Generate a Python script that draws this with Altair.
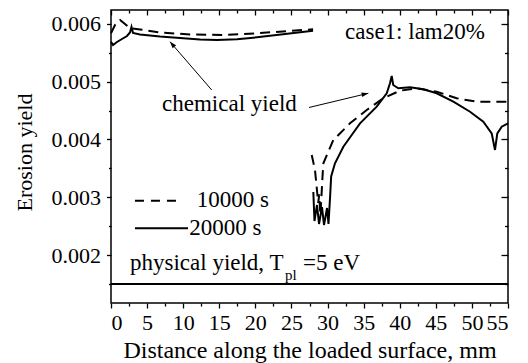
import altair as alt
import pandas as pd

# ---- data ----
# 20000 s (solid), left segment and right segment
sol_left_x = [0.0, 0.28, 0.83, 1.52, 2.22, 2.63, 2.84, 3.05, 4.02, 6.79, 9.56, 12.33, 14.69, 17.46, 20.23, 23.83, 27.99]
sol_left_y = [0.005692, 0.005634, 0.005686, 0.005738, 0.005790, 0.005851, 0.005946, 0.005842, 0.005816,
              0.005781, 0.005755, 0.005729, 0.005721, 0.005733, 0.005768, 0.005820, 0.005882]
sol_right_x = [28.03, 28.19, 28.54, 28.82, 29.23, 29.51, 29.93, 30.13, 30.35, 30.5, 31.03, 32.19, 33.35, 34.50,
               36.81, 38.2, 38.65, 38.89, 39.1, 39.8, 41.42, 43.27, 45.12, 47.43, 49.74, 51.58, 52.74, 53.2,
               53.52, 54.13, 55.0]
sol_right_y = [0.003091, 0.002589, 0.002866, 0.002537, 0.002831, 0.002520, 0.002814, 0.002537, 0.00300, 0.00336,
               0.003587, 0.003875, 0.004077, 0.004279, 0.004567, 0.004799, 0.004972, 0.005098, 0.004942, 0.004885,
               0.004902, 0.004868, 0.004799, 0.004653, 0.004480, 0.004307, 0.004106, 0.003818, 0.004106, 0.004221,
               0.004279]
# 10000 s (dashed)
dash_left_x = [0.0, 0.55, 0.97, 1.25, 1.94, 2.63, 4.02, 6.79, 10.94, 15.52, 20.2, 24.8, 28.0]
dash_left_y = [0.005837, 0.005980, 0.006050, 0.006067, 0.005998, 0.005923, 0.005903, 0.005851, 0.005816,
               0.005807, 0.005837, 0.005877, 0.005906]
dash_right_x = [27.81, 28.26, 28.49, 28.7, 28.85, 29.0, 29.15, 29.3, 29.42, 30.80, 33.11, 35.43, 37.73, 40.04,
                42.35, 45.12, 47.89, 50.66, 55.0]
dash_right_y = [0.003731, 0.003471, 0.003182, 0.00290, 0.00305, 0.00270, 0.00300, 0.00335, 0.003587, 0.003990,
                0.004279, 0.004510, 0.004712, 0.004844, 0.004885, 0.004827, 0.004712, 0.004653, 0.004653]
physical_yield = 0.0015

# axis tick values
x_major = [0, 5, 10, 15, 20, 25, 30, 35, 40, 45, 50, 55]
x_minor = [2.5, 7.5, 12.5, 17.5, 22.5, 27.5, 32.5, 37.5, 42.5, 47.5, 52.5]
y_major = [0.002, 0.003, 0.004, 0.005, 0.006]
y_minor = [0.0015, 0.0025, 0.0035, 0.0045, 0.0055]

# annotations
left_texts = ["chemical yield", "physical yield, T", "=5 eV", "10000 s", "20000 s"]
left_texts_x = [7.07, 2.63, 26.6, 11.87, 10.85]
left_texts_y = [0.004492, 0.001741, 0.001741, 0.0028363, 0.0023467]
case_text = ["case1: lam20%"]
case_x = [51.8]
case_y = [0.00574]
sub_text = ["pl"]
sub_x = [24.1]
sub_y = [0.001568]
legend_series = ["10000 s", "20000 s"]
legend_x1 = [3.32, 3.32]
legend_x2 = [9.84, 10.67]
legend_y = [0.0029402, 0.0024625]
arrow_tail_x = [13.95, 27.43]
arrow_tail_y = [0.004856, 0.004553]
arrow_head_x = [8.17, 35.65]
arrow_head_y = [0.005691, 0.004799]
arrow_angle = [319, 77]

# ---- tables ----
def seg(xs, ys, name):
    return pd.DataFrame({"x": xs, "y": ys, "seg": name, "o": range(len(xs))})

solid_df = pd.concat([seg(sol_left_x, sol_left_y, "a"), seg(sol_right_x, sol_right_y, "b")])
dash_df = pd.concat([seg(dash_left_x, dash_left_y, "a"), seg(dash_right_x, dash_right_y, "b")])
text_df = pd.DataFrame({"x": left_texts_x, "y": left_texts_y, "t": left_texts})
case_df = pd.DataFrame({"x": case_x, "y": case_y, "t": case_text})
sub_df = pd.DataFrame({"x": sub_x, "y": sub_y, "t": sub_text})
leg_df = pd.DataFrame({"x": legend_x1, "x2": legend_x2, "y": legend_y, "s": legend_series})
arr_df = pd.DataFrame({"x": arrow_tail_x, "y": arrow_tail_y, "x2": arrow_head_x, "y2": arrow_head_y,
                       "a": arrow_angle})

FONT = "Liberation Serif, 'Times New Roman', Times, 'DejaVu Serif', serif"
xs = alt.Scale(domain=[0, 55], nice=False, zero=False)
ys = alt.Scale(domain=[0.00117, 0.00624], nice=False, zero=False)

def xaxis(**kw):
    base = dict(grid=False, domain=False, labels=False, title=None, tickColor="black", tickWidth=1.3)
    base.update(kw)
    return alt.Axis(**base)

# main axes (bottom / left, outward majors with labels)
ax_bottom = xaxis(orient="bottom", values=x_major, labels=True, tickSize=5, labelPadding=4, format="d",
                  title="Distance along the loaded surface, mm", titleFontSize=24,
                  titleBaseline="alphabetic", titleY=54)
ax_left = xaxis(orient="left", values=y_major, labels=True, tickSize=4.5, labelPadding=6, format=".3f",
                title="Erosion yield", titleFontSize=22, titleBaseline="alphabetic", titleAngle=270,
                titleX=-80, titleY=142, titleAlign="center")

solid = alt.Chart(solid_df).mark_line(color="black", strokeWidth=2).encode(
    x=alt.X("x:Q", scale=xs, axis=ax_bottom),
    y=alt.Y("y:Q", scale=ys, axis=ax_left),
    detail="seg:N", order="o:Q")

dashed = alt.Chart(dash_df).mark_line(color="black", strokeWidth=2, strokeDash=[10, 6]).encode(
    x=alt.X("x:Q", scale=xs, axis=xaxis(orient="top", values=x_major, tickSize=5, offset=-5)),
    y=alt.Y("y:Q", scale=ys, axis=xaxis(orient="right", values=y_major, tickSize=7, offset=-7)),
    detail="seg:N", order="o:Q")

phys = alt.Chart(pd.DataFrame({"y": [physical_yield]})).mark_rule(color="black", strokeWidth=2).encode(
    y=alt.Y("y:Q", scale=ys, axis=xaxis(orient="left", values=y_minor, tickSize=2.5)))

# minor ticks carried by otherwise-invisible layers
minor_x_df = pd.DataFrame({"x": x_minor})
minor_b = alt.Chart(minor_x_df).mark_point(opacity=0).encode(
    x=alt.X("x:Q", scale=xs, axis=xaxis(orient="bottom", values=x_minor, tickSize=3)),
    y=alt.Y("x:Q", scale=ys, axis=xaxis(orient="right", values=y_minor, tickSize=3.5, offset=-3.5)))
minor_t = alt.Chart(minor_x_df).mark_point(opacity=0).encode(
    x=alt.X("x:Q", scale=xs, axis=xaxis(orient="top", values=x_minor, tickSize=3, offset=-3)))

legend_solid = alt.Chart(leg_df).transform_filter(alt.datum.s == "20000 s").mark_rule(
    color="black", strokeWidth=2).encode(
    x=alt.X("x:Q", scale=xs, axis=None), x2="x2:Q", y=alt.Y("y:Q", scale=ys, axis=None))
legend_dash = alt.Chart(leg_df).transform_filter(alt.datum.s == "10000 s").mark_rule(
    color="black", strokeWidth=2, strokeDash=[9, 7]).encode(
    x=alt.X("x:Q", scale=xs, axis=None), x2="x2:Q", y=alt.Y("y:Q", scale=ys, axis=None))

texts = alt.Chart(text_df).mark_text(font=FONT, fontSize=23, align="left", baseline="alphabetic",
                                     color="black").encode(
    x=alt.X("x:Q", scale=xs, axis=None), y=alt.Y("y:Q", scale=ys, axis=None), text="t:N")
case = alt.Chart(case_df).mark_text(font=FONT, fontSize=23, align="right", baseline="alphabetic",
                                    color="black").encode(
    x=alt.X("x:Q", scale=xs, axis=None), y=alt.Y("y:Q", scale=ys, axis=None), text="t:N")
sub = alt.Chart(sub_df).mark_text(font=FONT, fontSize=15, align="left", baseline="alphabetic",
                                  color="black").encode(
    x=alt.X("x:Q", scale=xs, axis=None), y=alt.Y("y:Q", scale=ys, axis=None), text="t:N")

arrow_lines = alt.Chart(arr_df).mark_rule(color="black", strokeWidth=1).encode(
    x=alt.X("x:Q", scale=xs, axis=None), y=alt.Y("y:Q", scale=ys, axis=None), x2="x2:Q", y2="y2:Q")
arrow_heads = alt.Chart(arr_df).mark_point(shape="M -0.35 1 L 0 0 L 0.35 1 Z", filled=True, color="black",
                                           size=180, opacity=1).encode(
    x=alt.X("x2:Q", scale=xs, axis=None), y=alt.Y("y2:Q", scale=ys, axis=None),
    angle=alt.Angle("a:Q", scale=None))

chart = alt.layer(solid, dashed, phys, minor_b, minor_t, legend_solid, legend_dash, texts, case, sub,
                  arrow_lines, arrow_heads).properties(
    width=397, height=293,
    padding={"left": 111, "top": 10, "right": 20, "bottom": 60},
    autosize=alt.AutoSizeParams(type="none"),
    background="white",
).configure_view(stroke="black", strokeWidth=1.5).configure_axis(
    labelFont=FONT, labelFontSize=22, labelColor="black",
    titleFont=FONT, titleFontWeight="normal", titleColor="black",
)

chart.save("out.html", embed_options={"renderer": "svg", "actions": False})
